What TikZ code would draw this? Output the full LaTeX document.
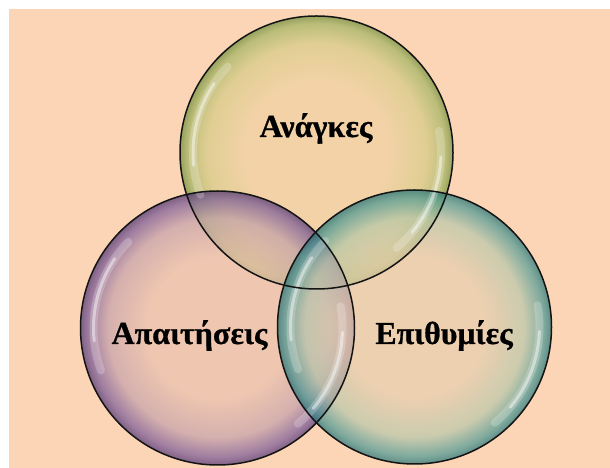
\documentclass[tikz,border=0pt]{standalone}
\usepackage{fontspec}
\setmainfont{Liberation Serif}[BoldFeatures={FakeBold=0.8}]
\definecolor{bg}{RGB}{251,213,181}
\definecolor{rim}{RGB}{20,20,20}
% green bubble
\definecolor{gC}{RGB}{240,210,162}
\definecolor{gM}{RGB}{214,204,134}
\definecolor{gE1}{RGB}{160,180,96}
\definecolor{gE}{RGB}{110,140,58}
% purple bubble
\definecolor{pC}{RGB}{234,192,174}
\definecolor{pM}{RGB}{196,160,172}
\definecolor{pE1}{RGB}{120,88,152}
\definecolor{pE}{RGB}{76,48,112}
% teal bubble
\definecolor{tC}{RGB}{230,206,174}
\definecolor{tM}{RGB}{184,200,172}
\definecolor{tE1}{RGB}{74,152,148}
\definecolor{tE}{RGB}{30,112,116}
\pgfdeclareradialshading{bubG}{\pgfpoint{0bp}{0bp}}{color(0bp)=(gC); color(13bp)=(gC); color(20bp)=(gM); color(23.6bp)=(gE1); color(25bp)=(gE); color(50bp)=(gE)}
\pgfdeclareradialshading{bubP}{\pgfpoint{0bp}{0bp}}{color(0bp)=(pC); color(13bp)=(pC); color(20bp)=(pM); color(23.6bp)=(pE1); color(25bp)=(pE); color(50bp)=(pE)}
\pgfdeclareradialshading{bubT}{\pgfpoint{0bp}{0bp}}{color(0bp)=(tC); color(13bp)=(tC); color(20bp)=(tM); color(23.6bp)=(tE1); color(25bp)=(tE); color(50bp)=(tE)}
\tikzset{
  bubble/.style={fill opacity=0.7},
  outline/.style={draw=rim, line width=1.5pt},
  glow/.style={white, line cap=round, draw opacity=0.22, line width=8pt},
  glowcore/.style={white, line cap=round, draw opacity=0.45, line width=3pt},
  lbl/.style={font=\bfseries\fontsize{32}{34}\selectfont, text=black, anchor=base, inner sep=0pt}
}
\begin{document}
\begin{tikzpicture}[x=1pt,y=1pt]
\useasboundingbox (0,0) rectangle (610,468);
\fill[bg] (9,0) rectangle (610,459);
\coordinate (cA) at (316.5,315.5);
\coordinate (cP) at (217.5,140);
\coordinate (cT) at (414.5,141);
% fills
\shade[bubble, shading=bubG] (cA) circle[radius=136.5];
\shade[bubble, shading=bubP] (cP) circle[radius=137];
\shade[bubble, shading=bubT] (cT) circle[radius=137];
% highlights
\foreach \c/\r in {cA/136.5, cP/137, cT/137}{
  \draw[glow] ([shift={(136:\r-13)}]\c) arc[start angle=136, end angle=200, radius=\r-13];
  \draw[glowcore] ([shift={(146:\r-13)}]\c) arc[start angle=146, end angle=186, radius=\r-13];
  \draw[glow] ([shift={(-50:\r-12)}]\c) arc[start angle=-50, end angle=10, radius=\r-12];
  \draw[glowcore] ([shift={(-40:\r-12)}]\c) arc[start angle=-40, end angle=-2, radius=\r-12];
}
% outlines
\draw[outline] (cA) circle[radius=136.5];
\draw[outline] (cP) circle[radius=137];
\draw[outline] (cT) circle[radius=137];
% labels
\node[lbl] (tA) at (316,331) {Ανάγκες};
\node[lbl] (tP) at (189.5,124) {Απαιτήσεις};
\node[lbl] (tT) at (444,124) {Επιθυμίες};
\end{tikzpicture}
\end{document}
